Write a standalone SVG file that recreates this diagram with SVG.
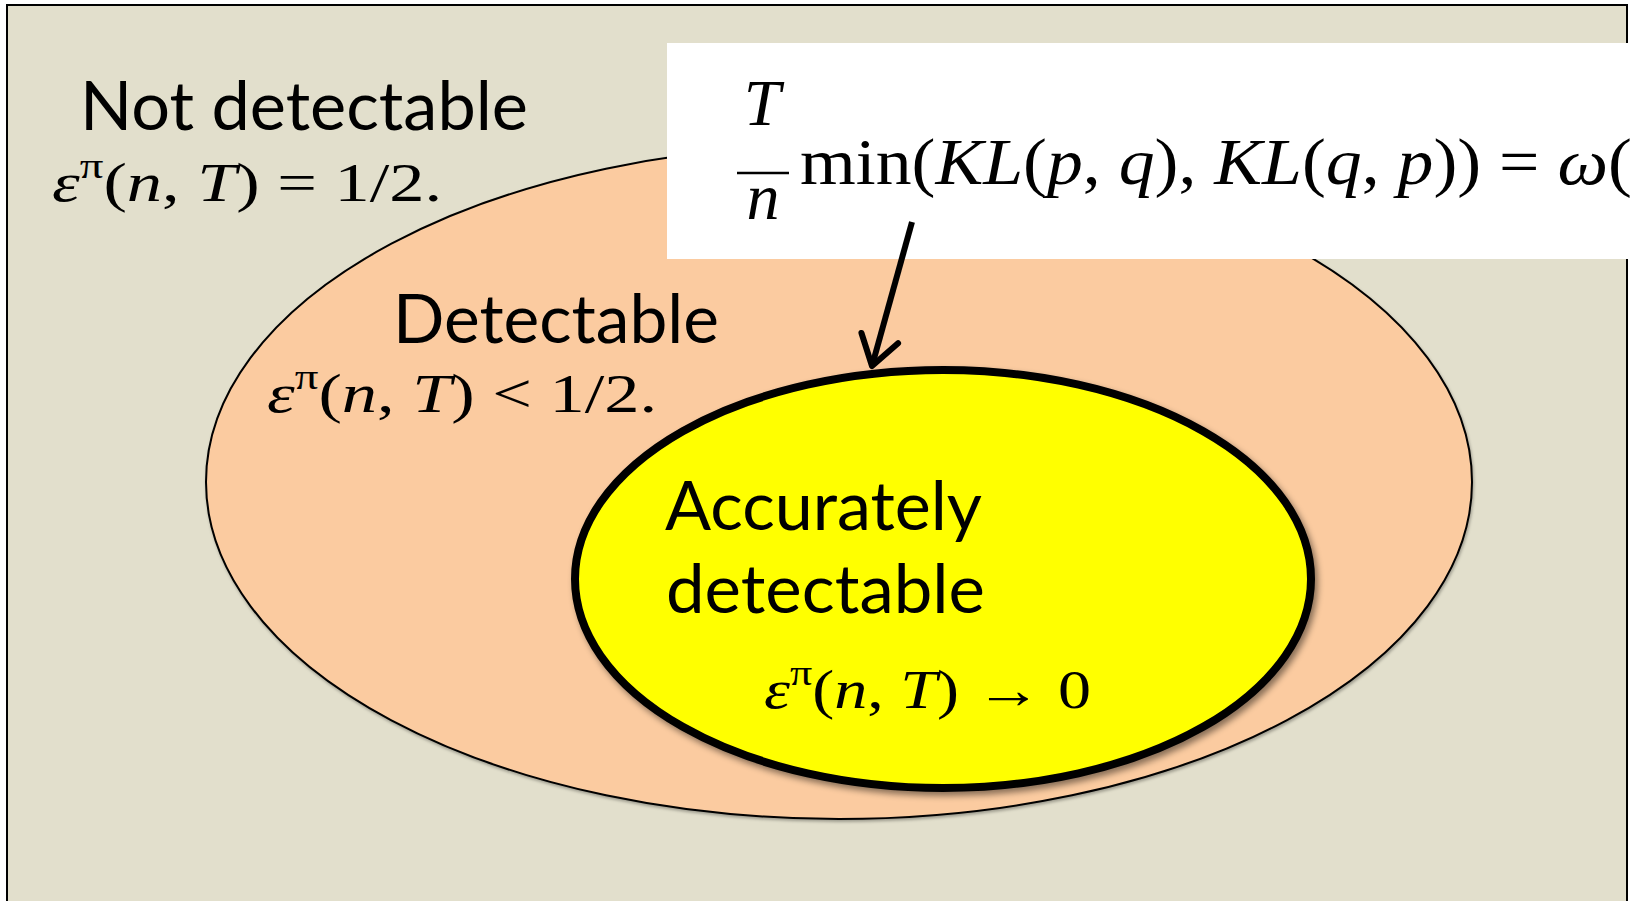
<svg xmlns="http://www.w3.org/2000/svg" width="1630" height="901" viewBox="0 0 1630 901">
<style>
.lbl{font-family:Lato,"Liberation Sans",sans-serif;font-size:68px;fill:#000}
.m{font-family:"Liberation Serif","DejaVu Serif",serif;font-size:54px;fill:#000}
.big{font-family:"Liberation Serif","DejaVu Serif",serif;font-size:66px;fill:#000}
.i{font-style:italic}
</style>
<defs>
<filter id="sh" x="-10%" y="-10%" width="130%" height="130%">
<feDropShadow dx="3" dy="4" stdDeviation="3" flood-color="#000" flood-opacity="0.45"/>
</filter>
<filter id="sh2" x="-10%" y="-10%" width="130%" height="130%">
<feDropShadow dx="1" dy="2" stdDeviation="1.5" flood-color="#000" flood-opacity="0.3"/>
</filter>
<marker id="ah" markerUnits="userSpaceOnUse" markerWidth="60" markerHeight="60" viewBox="-40 -30 50 60" refX="0" refY="0" orient="auto">
<path d="M-29,-19 L0,0 L-29,19" fill="none" stroke="#000" stroke-width="6" stroke-linecap="round" stroke-linejoin="round"/>
</marker>
</defs>
<rect id="frame" x="7" y="5" width="1620" height="920" fill="#E2DFCC" stroke="#000" stroke-width="2"/>
<g id="detectable">
<ellipse cx="839" cy="482" rx="633" ry="337" fill="#FBCBA0" stroke="#000" stroke-width="2" filter="url(#sh2)"/>
</g>
<g id="accurate">
<ellipse cx="943" cy="579" rx="368" ry="209" fill="#FFFF00" stroke="#000" stroke-width="8" filter="url(#sh)"/>
</g>
<g id="formula-box">
<rect x="667" y="43" width="980" height="216" fill="#FFFFFF"/>
<text class="big i" x="762" y="125" text-anchor="middle">T</text>
<line x1="737" y1="173" x2="789" y2="173" stroke="#000" stroke-width="2.5"/>
<text class="big i" x="763" y="219" text-anchor="middle">n</text>
<text class="big" x="800" y="184" textLength="832" lengthAdjust="spacingAndGlyphs">min(<tspan class="i">KL</tspan>(<tspan class="i">p</tspan>, <tspan class="i">q</tspan>), <tspan class="i">KL</tspan>(<tspan class="i">q</tspan>, <tspan class="i">p</tspan>)) = <tspan class="i">ω</tspan>(</text>
</g>
<g id="connectors">
<line x1="912" y1="222" x2="872" y2="366" stroke="#000" stroke-width="6" marker-end="url(#ah)"/>
</g>
<g id="label-not">
<text class="lbl" x="80" y="130" textLength="448" lengthAdjust="spacingAndGlyphs">Not detectable</text>
<text class="m" x="52" y="201" textLength="390" lengthAdjust="spacingAndGlyphs"><tspan class="i">ε</tspan><tspan font-size="36" dy="-23">π</tspan><tspan dy="23">(</tspan><tspan class="i">n</tspan>, <tspan class="i">T</tspan>) = 1/2.</text>
</g>
<g id="label-det">
<text class="lbl" x="393" y="343" textLength="326" lengthAdjust="spacingAndGlyphs">Detectable</text>
<text class="m" x="267" y="412" textLength="390" lengthAdjust="spacingAndGlyphs"><tspan class="i">ε</tspan><tspan font-size="36" dy="-23">π</tspan><tspan dy="23">(</tspan><tspan class="i">n</tspan>, <tspan class="i">T</tspan>) &lt; 1/2.</text>
</g>
<g id="label-acc">
<text class="lbl" x="665" y="530" textLength="317" lengthAdjust="spacingAndGlyphs">Accurately</text>
<text class="lbl" x="666" y="613" textLength="319" lengthAdjust="spacingAndGlyphs">detectable</text>
<text class="m" x="764" y="708" textLength="327" lengthAdjust="spacingAndGlyphs"><tspan class="i">ε</tspan><tspan font-size="36" dy="-23">π</tspan><tspan dy="23">(</tspan><tspan class="i">n</tspan>, <tspan class="i">T</tspan>) → 0</text>
</g>
</svg>
